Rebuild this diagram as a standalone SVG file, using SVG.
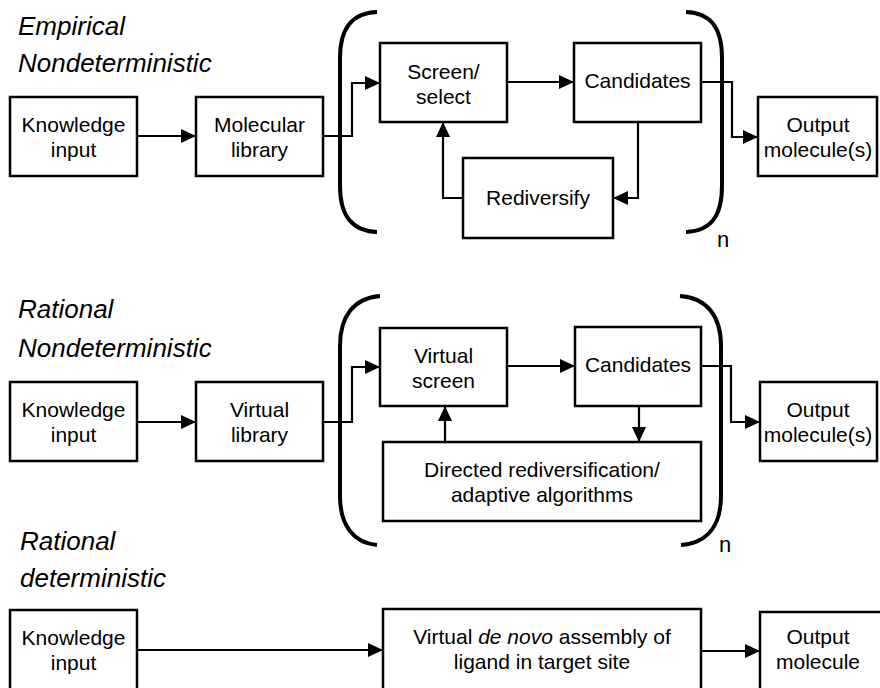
<svg xmlns="http://www.w3.org/2000/svg" width="880" height="688" viewBox="0 0 880 688">
<style>
.box{fill:#fff;stroke:#000;stroke-width:2.5}
.t{font-family:"Liberation Sans",Arial,Helvetica,sans-serif;font-size:21px;fill:#000;text-anchor:middle}
.h{font-family:"Liberation Sans",Arial,Helvetica,sans-serif;font-size:26px;font-style:italic;fill:#000}
.n{font-family:"Liberation Sans",Arial,Helvetica,sans-serif;font-size:22px;fill:#000}
.c{fill:none;stroke:#000;stroke-width:2.2;marker-end:url(#ah)}
.br{fill:none;stroke:#000;stroke-width:4;stroke-linecap:butt}
</style>
<defs>
<marker id="ah" markerUnits="userSpaceOnUse" markerWidth="15" markerHeight="14" refX="15" refY="7" orient="auto">
<path d="M0,0 L15,7 L0,14 Z" fill="#000"/>
</marker>
</defs>

<g id="headings">
<text class="h" x="18" y="35">Empirical</text>
<text class="h" x="18" y="72">Nondeterministic</text>
<text class="h" x="18" y="318">Rational</text>
<text class="h" x="18" y="357">Nondeterministic</text>
<text class="h" x="20" y="550">Rational</text>
<text class="h" x="20" y="587">deterministic</text>
</g>

<g id="brackets">
<path class="br" d="M377,12 C352,13 340,28 340,58 L340,186 C340,216 352,231 377,232"/>
<path class="br" d="M686,12 C711,13 722,28 722,58 L722,186 C722,216 711,231 686,232"/>
<text class="n" x="717" y="247">n</text>
<path class="br" d="M380,296 C354,298 340,316 340,346 L340,496 C340,526 354,543 377,545"/>
<path class="br" d="M680,296 C707,298 721,316 721,346 L721,496 C721,526 707,543 681,545"/>
<text class="n" x="719" y="552">n</text>
</g>

<g id="connectors">
<path class="c" d="M137,136 L196,136"/>
<path class="c" d="M323,136 L352,136 L352,83 L380,83"/>
<path class="c" d="M507,82 L574,82"/>
<path class="c" d="M701,82 L732,82 L732,137 L758,137"/>
<path class="c" d="M638,122 L638,198 L613,198"/>
<path class="c" d="M463,198 L443,198 L443,122"/>

<path class="c" d="M137,422 L196,422"/>
<path class="c" d="M323,422 L352,422 L352,367 L380,367"/>
<path class="c" d="M507,366 L575,366"/>
<path class="c" d="M701,366 L731,366 L731,422 L760,422"/>
<path class="c" d="M639,406 L639,442"/>
<path class="c" d="M445,442 L445,406"/>

<path class="c" d="M137,650 L383,650"/>
<path class="c" d="M701,651 L760,651"/>
</g>

<g id="ki1"><rect class="box" x="10" y="97" width="127" height="79"/>
<text class="t" x="73.5" y="132">Knowledge</text><text class="t" x="73.5" y="157">input</text></g>
<g id="ml1"><rect class="box" x="196" y="97" width="127" height="79"/>
<text class="t" x="259.5" y="132">Molecular</text><text class="t" x="259.5" y="157">library</text></g>
<g id="ss1"><rect class="box" x="380" y="43" width="127" height="79"/>
<text class="t" x="443.5" y="79">Screen/</text><text class="t" x="443.5" y="104">select</text></g>
<g id="ca1"><rect class="box" x="574" y="43" width="127" height="79"/>
<text class="t" x="637.5" y="88">Candidates</text></g>
<g id="rd1"><rect class="box" x="463" y="158" width="150" height="80"/>
<text class="t" x="538" y="205">Rediversify</text></g>
<g id="om1"><rect class="box" x="758" y="97" width="119" height="79"/>
<text class="t" x="818" y="132">Output</text><text class="t" x="818" y="157">molecule(s)</text></g>

<g id="ki2"><rect class="box" x="10" y="382" width="127" height="79"/>
<text class="t" x="73.5" y="417">Knowledge</text><text class="t" x="73.5" y="442">input</text></g>
<g id="vl2"><rect class="box" x="196" y="382" width="127" height="79"/>
<text class="t" x="259.5" y="417">Virtual</text><text class="t" x="259.5" y="442">library</text></g>
<g id="vs2"><rect class="box" x="380" y="328" width="127" height="78"/>
<text class="t" x="443.5" y="363">Virtual</text><text class="t" x="443.5" y="388">screen</text></g>
<g id="ca2"><rect class="box" x="575" y="327" width="126" height="79"/>
<text class="t" x="638" y="372">Candidates</text></g>
<g id="dr2"><rect class="box" x="383" y="442" width="318" height="79"/>
<text class="t" x="542" y="477">Directed rediversification/</text><text class="t" x="542" y="502">adaptive algorithms</text></g>
<g id="om2"><rect class="box" x="760" y="382" width="117" height="79"/>
<text class="t" x="818" y="417">Output</text><text class="t" x="818" y="442">molecule(s)</text></g>

<g id="ki3"><rect class="box" x="10" y="610" width="127" height="90"/>
<text class="t" x="73.5" y="645">Knowledge</text><text class="t" x="73.5" y="670">input</text></g>
<g id="dn3"><rect class="box" x="383" y="609" width="318" height="90"/>
<text class="t" x="542" y="644">Virtual <tspan font-style="italic">de novo</tspan> assembly of</text><text class="t" x="542" y="669">ligand in target site</text></g>
<g id="om3"><rect class="box" x="760" y="612" width="130" height="90"/>
<text class="t" x="818" y="644">Output</text><text class="t" x="818" y="669">molecule</text></g>
</svg>
